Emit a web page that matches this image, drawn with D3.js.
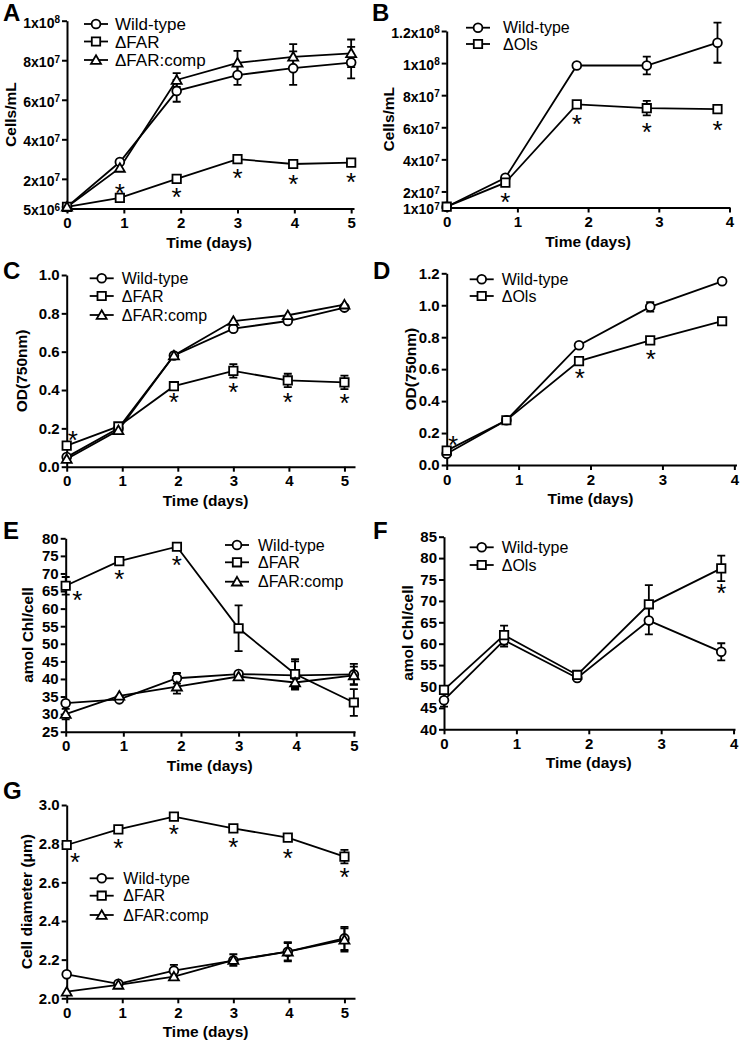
<!DOCTYPE html>
<html><head><meta charset="utf-8">
<script src="https://cdn.jsdelivr.net/npm/d3@7"></script>
<style>
body{margin:0;background:#fff;}
svg{display:block;font-family:"Liberation Sans",Arial,sans-serif;}
</style>
</head><body>
<svg id="c" width="740" height="1044"></svg>
<script>
// ---------- DATA ----------
const daysFAR = [0, 0.93, 1.93, 3, 3.98, 5];
const daysOls = [0, 0.83, 1.84, 2.83, 3.83];
const ticksFAR = [0, 1, 2, 3, 4, 5];
const ticksOls = [0, 1, 2, 3, 4];

// A: cells/mL (FAR)
const cellsA_WT = [5.8e6, 2.85e7, 6.45e7, 7.25e7, 7.6e7, 7.88e7];
const cellsA_WT_err = [0.4e6, 0.8e6, 5.5e6, 5e6, 8.5e6, 8e6];
const cellsA_FAR = [5.8e6, 1.04e7, 2.0e7, 3.0e7, 2.75e7, 2.82e7];
const cellsA_FAR_err = [0.4e6, 0.6e6, 0.8e6, 1e6, 1.5e6, 1e6];
const cellsA_comp = [5.8e6, 2.55e7, 7.0e7, 7.87e7, 8.17e7, 8.35e7];
const cellsA_comp_err = [0.4e6, 0.8e6, 3.5e6, 6e6, 6.4e6, 7e6];
const cellsA_ticks = [5e6, 2e7, 4e7, 6e7, 8e7, 1e8];
const cellsA_stars = [[0.93, 1.55e7], [1.93, 1.33e7], [3, 2.3e7], [3.98, 1.97e7], [5, 2.1e7]];

// B: cells/mL (Ols)
const cellsB_WT = [1.05e7, 2.85e7, 9.85e7, 9.85e7, 1.127e8];
const cellsB_WT_err = [0.4e6, 0.5e6, 0.8e6, 5.5e6, 1.25e7];
const cellsB_Ols = [1.05e7, 2.55e7, 7.43e7, 7.19e7, 7.13e7];
const cellsB_Ols_err = [0.4e6, 0.5e6, 0.8e6, 4.5e6, 0.8e6];
const cellsB_ticks = [1e7, 2e7, 4e7, 6e7, 8e7, 1e8, 1.2e8];
const cellsB_stars = [[0.83, 1.63e7], [1.84, 6.54e7], [2.83, 6.0e7], [3.83, 6.16e7]];

// C: OD750 (FAR)
const odC_WT = [0.05, 0.20, 0.58, 0.72, 0.76, 0.83];
const odC_WT_err = [0.01, 0.01, 0.015, 0.02, 0.015, 0.015];
const odC_FAR = [0.11, 0.21, 0.42, 0.50, 0.45, 0.44];
const odC_FAR_err = [0.01, 0.01, 0.015, 0.035, 0.035, 0.035];
const odC_comp = [0.04, 0.19, 0.58, 0.76, 0.79, 0.845];
const odC_comp_err = [0.01, 0.01, 0.015, 0.01, 0.01, 0.02];
const odC_ticks = [0, 0.2, 0.4, 0.6, 0.8, 1.0];
const odC_stars = [[0.11, 0.165], [1.93, 0.365], [3, 0.414], [3.98, 0.365], [5, 0.357]];

// D: OD750 (Ols)
const odD_WT = [0.07, 0.28, 0.75, 0.99, 1.15];
const odD_WT_err = [0.01, 0.01, 0.02, 0.03, 0.01];
const odD_Ols = [0.09, 0.28, 0.65, 0.78, 0.90];
const odD_Ols_err = [0.01, 0.01, 0.01, 0.01, 0.01];
const odD_ticks = [0, 0.2, 0.4, 0.6, 0.8, 1.0, 1.2];
const odD_stars = [[0.09, 0.156], [1.85, 0.573], [2.84, 0.694]];

// E: amol Chl/cell (FAR)
const chlE_WT = [33.1, 34.2, 40.2, 41.4, 41.0, 41.3];
const chlE_WT_err = [1, 0.8, 1.5, 1, 4, 3];
const chlE_FAR = [66.5, 73.5, 77.6, 54.4, 41.4, 33.3];
const chlE_FAR_err = [2.5, 1, 1, 6.5, 4.2, 3.8];
const chlE_comp = [30.0, 35.2, 37.8, 40.7, 39.0, 41.0];
const chlE_comp_err = [1.5, 1, 2, 1, 1.5, 2.5];
const chlE_ticks = [25, 30, 35, 40, 45, 50, 55, 60, 65, 70, 75, 80];
const chlE_stars = [[0.2, 63.9], [0.93, 69.9], [1.93, 73.8]];

// F: amol Chl/cell (Ols)
const chlF_WT = [46.8, 60.8, 52.0, 65.4, 58.1];
const chlF_WT_err = [1.5, 1.5, 1, 3.2, 2];
const chlF_Ols = [49.2, 62.0, 52.7, 69.2, 77.6];
const chlF_Ols_err = [1, 2.2, 1, 4.5, 3];
const chlF_ticks = [40, 45, 50, 55, 60, 65, 70, 75, 80, 85];
const chlF_stars = [[3.83, 72.9]];

// G: cell diameter (FAR)
const diaG_WT = [2.124, 2.075, 2.143, 2.195, 2.241, 2.31];
const diaG_WT_err = [0.005, 0.005, 0.03, 0.02, 0.05, 0.06];
const diaG_FAR = [2.793, 2.874, 2.94, 2.879, 2.831, 2.733];
const diaG_FAR_err = [0.005, 0.005, 0.005, 0.015, 0.02, 0.035];
const diaG_comp = [2.034, 2.069, 2.112, 2.198, 2.241, 2.302];
const diaG_comp_err = [0.005, 0.005, 0.015, 0.03, 0.045, 0.06];
const diaG_ticks = [2.0, 2.2, 2.4, 2.6, 2.8, 3.0];
const diaG_stars = [[0.15, 2.733], [0.93, 2.805], [1.93, 2.874], [3, 2.81], [3.98, 2.753], [5, 2.655]];

const labWT = "Wild-type", labFAR = "\u0394FAR", labComp = "\u0394FAR:comp", labOls = "\u0394Ols";

// ---------- DRAWING ----------
const svg = d3.select("#c");
const FONT = '"Liberation Sans",Arial,sans-serif';

const markerPath = {
  square: "M-4.2,-4.2H4.2V4.2H-4.2Z",
  triangle: "M0,-4.8L5,3.8H-5Z"
};
function drawMarker(sel, type) {
  if (type === "circle") {
    sel.append("circle").attr("r", 4.4).attr("fill", "#fff").attr("stroke", "#000").attr("stroke-width", 1.8);
  } else {
    sel.append("path").attr("d", markerPath[type]).attr("fill", "#fff").attr("stroke", "#000").attr("stroke-width", 1.8);
  }
}

function sciLabel(textSel) {
  textSel.each(function(d) {
    const e = Math.floor(Math.log10(d) + 1e-9);
    const m = +(d / Math.pow(10, e)).toFixed(2);
    const t = d3.select(this);
    t.text(null);
    t.append("tspan").text(m + "x10");
    t.append("tspan").attr("dy", "-0.45em").attr("font-size", "10px").text(e);
  });
}

function panel(cfg) {
  const g = svg.append("g");
  const x = d3.scaleLinear().domain([0, cfg.xMax]).range([cfg.left, cfg.right]);
  const y = d3.scaleLinear().domain(cfg.yDomain).range([cfg.bottom, cfg.top]);

  const gx = g.append("g").attr("transform", `translate(0,${cfg.bottom})`)
    .call(d3.axisBottom(x).tickValues(cfg.xTicks).tickSize(5).tickSizeOuter(0).tickPadding(4).tickFormat(d3.format("d")));
  gx.select(".domain").attr("stroke-width", 2);
  gx.selectAll(".tick line").attr("stroke-width", 2);
  gx.selectAll(".tick text").attr("font-family", FONT).attr("font-weight", "bold").attr("font-size", "15px").attr("fill", "#000");

  const gy = g.append("g").attr("transform", `translate(${cfg.left},0)`)
    .call(d3.axisLeft(y).tickValues(cfg.yTicks).tickSize(5).tickSizeOuter(0).tickPadding(2).tickFormat(cfg.yFormat || (d => d)));
  gy.select(".domain").attr("stroke-width", 2);
  gy.selectAll(".tick line").attr("stroke-width", 2);
  const yt = gy.selectAll(".tick text").attr("font-family", FONT).attr("font-weight", "bold")
    .attr("font-size", cfg.sci ? "14px" : "15px").attr("fill", "#000");
  if (cfg.sci) { yt.attr("dy", "0.45em"); sciLabel(yt); }

  g.append("text").attr("x", (x(0) + x(cfg.xTicks[cfg.xTicks.length - 1])) / 2).attr("y", cfg.bottom + 39)
    .attr("text-anchor", "middle").attr("font-weight", "bold").attr("font-size", "15.5px").text("Time (days)");
  g.append("text").attr("transform", `translate(${cfg.yTitleX},${(cfg.top + cfg.bottom) / 2}) rotate(-90)`)
    .attr("text-anchor", "middle").attr("font-weight", "bold").attr("font-size", "15.5px").text(cfg.yTitle);
  g.append("text").attr("x", cfg.letterX).attr("y", cfg.letterY).attr("font-weight", "bold").attr("font-size", "24px").text(cfg.letter);

  const line = d3.line().x(d => x(d[0])).y(d => y(d[1]));

  cfg.series.forEach(s => {
    const pts = cfg.days.map((d, i) => [d, s.values[i]]);
    g.append("path").attr("d", line(pts)).attr("fill", "none").attr("stroke", "#000").attr("stroke-width", 1.8);
  });
  cfg.series.forEach(s => {
    cfg.days.forEach((d, i) => {
      const e = s.err[i];
      const y1 = y(s.values[i] + e), y2 = y(s.values[i] - e);
      if (Math.abs(y2 - y1) < 9) return;
      const cx = x(d);
      g.append("path").attr("d", `M${cx},${y1}V${y2}M${cx - 4},${y1}H${cx + 4}M${cx - 4},${y2}H${cx + 4}`)
        .attr("stroke", "#000").attr("stroke-width", 1.8).attr("fill", "none");
    });
  });
  cfg.series.forEach(s => {
    cfg.days.forEach((d, i) => {
      const m = g.append("g").attr("transform", `translate(${x(d)},${y(s.values[i])})`);
      drawMarker(m, s.marker);
    });
  });
  cfg.stars.forEach(st => {
    g.append("text").attr("x", x(st[0])).attr("y", y(st[1]) + 14).attr("text-anchor", "middle")
      .attr("font-size", "26px").text("*");
  });
  cfg.series.forEach((s, i) => {
    const ly = cfg.legend.rows[i];
    const lg = g.append("g");
    lg.append("line").attr("x1", cfg.legend.cx - 12).attr("x2", cfg.legend.cx + 12).attr("y1", ly).attr("y2", ly)
      .attr("stroke", "#000").attr("stroke-width", 1.8);
    drawMarker(lg.append("g").attr("transform", `translate(${cfg.legend.cx},${ly})`), s.marker);
    lg.append("text").attr("x", cfg.legend.tx).attr("y", ly).attr("dy", "0.36em")
      .attr("font-size", cfg.legend.fs || "16px").text(s.label);
  });
}

panel({
  letter: "A", letterX: 3, letterY: 21,
  left: 67, right: 354, xMax: 5.05, top: 20.7, bottom: 208.5,
  yDomain: [5e6, 1e8], yTicks: cellsA_ticks, sci: true, xTicks: ticksFAR, days: daysFAR,
  yTitle: "Cells/mL", yTitleX: 16,
  series: [
    {label: labWT, marker: "circle", values: cellsA_WT, err: cellsA_WT_err},
    {label: labFAR, marker: "square", values: cellsA_FAR, err: cellsA_FAR_err},
    {label: labComp, marker: "triangle", values: cellsA_comp, err: cellsA_comp_err}
  ],
  stars: cellsA_stars,
  legend: {cx: 96, tx: 115, rows: [24, 41.5, 60], fs: "17px"}
});

panel({
  letter: "B", letterX: 372, letterY: 21,
  left: 446.7, right: 729.5, xMax: 4, top: 31, bottom: 207.5,
  yDomain: [1e7, 1.2e8], yTicks: cellsB_ticks, sci: true, xTicks: ticksOls, days: daysOls,
  yTitle: "Cells/mL", yTitleX: 394,
  series: [
    {label: labWT, marker: "circle", values: cellsB_WT, err: cellsB_WT_err},
    {label: labOls, marker: "square", values: cellsB_Ols, err: cellsB_Ols_err}
  ],
  stars: cellsB_stars,
  legend: {cx: 478, tx: 503, rows: [27.7, 44]}
});

panel({
  letter: "C", letterX: 3, letterY: 279,
  left: 66.7, right: 355, xMax: 5.19, top: 275, bottom: 466.7,
  yDomain: [0, 1.0], yTicks: odC_ticks, yFormat: d3.format(".1f"), xTicks: ticksFAR, days: daysFAR,
  yTitle: "OD(750nm)", yTitleX: 27,
  series: [
    {label: labWT, marker: "circle", values: odC_WT, err: odC_WT_err},
    {label: labFAR, marker: "square", values: odC_FAR, err: odC_FAR_err},
    {label: labComp, marker: "triangle", values: odC_comp, err: odC_comp_err}
  ],
  stars: odC_stars,
  legend: {cx: 101.7, tx: 121.7, rows: [278.3, 296, 315]}
});

panel({
  letter: "D", letterX: 373, letterY: 279,
  left: 446.7, right: 736.5, xMax: 4.03, top: 273.3, bottom: 465,
  yDomain: [0, 1.2], yTicks: odD_ticks, yFormat: d3.format(".1f"), xTicks: ticksOls, days: daysOls,
  yTitle: "OD(750nm)", yTitleX: 416,
  series: [
    {label: labWT, marker: "circle", values: odD_WT, err: odD_WT_err},
    {label: labOls, marker: "square", values: odD_Ols, err: odD_Ols_err}
  ],
  stars: odD_stars,
  legend: {cx: 481.7, tx: 501.7, rows: [279.3, 296]}
});

panel({
  letter: "E", letterX: 3, letterY: 539,
  left: 65.7, right: 355, xMax: 5.02, top: 538.3, bottom: 731.7,
  yDomain: [25, 80], yTicks: chlE_ticks, xTicks: ticksFAR, days: daysFAR,
  yTitle: "amol Chl/cell", yTitleX: 33,
  series: [
    {label: labWT, marker: "circle", values: chlE_WT, err: chlE_WT_err},
    {label: labFAR, marker: "square", values: chlE_FAR, err: chlE_FAR_err},
    {label: labComp, marker: "triangle", values: chlE_comp, err: chlE_comp_err}
  ],
  stars: chlE_stars,
  legend: {cx: 237, tx: 258, rows: [545, 562.3, 581.7]}
});

panel({
  letter: "F", letterX: 373, letterY: 539,
  left: 444, right: 735, xMax: 4.02, top: 536.7, bottom: 729.3,
  yDomain: [40, 85], yTicks: chlF_ticks, xTicks: ticksOls, days: daysOls,
  yTitle: "amol Chl/cell", yTitleX: 413,
  series: [
    {label: labWT, marker: "circle", values: chlF_WT, err: chlF_WT_err},
    {label: labOls, marker: "square", values: chlF_Ols, err: chlF_Ols_err}
  ],
  stars: chlF_stars,
  legend: {cx: 481.7, tx: 501.7, rows: [547.3, 565]}
});

panel({
  letter: "G", letterX: 3, letterY: 799,
  left: 66.7, right: 355, xMax: 5.19, top: 805, bottom: 998.3,
  yDomain: [2.0, 3.0], yTicks: diaG_ticks, yFormat: d3.format(".1f"), xTicks: ticksFAR, days: daysFAR,
  yTitle: "Cell diameter (\u03bcm)", yTitleX: 32,
  series: [
    {label: labWT, marker: "circle", values: diaG_WT, err: diaG_WT_err},
    {label: labFAR, marker: "square", values: diaG_FAR, err: diaG_FAR_err},
    {label: labComp, marker: "triangle", values: diaG_comp, err: diaG_comp_err}
  ],
  stars: diaG_stars,
  legend: {cx: 101.7, tx: 123.3, rows: [878.3, 895.7, 915]}
});
</script>
</body></html>
